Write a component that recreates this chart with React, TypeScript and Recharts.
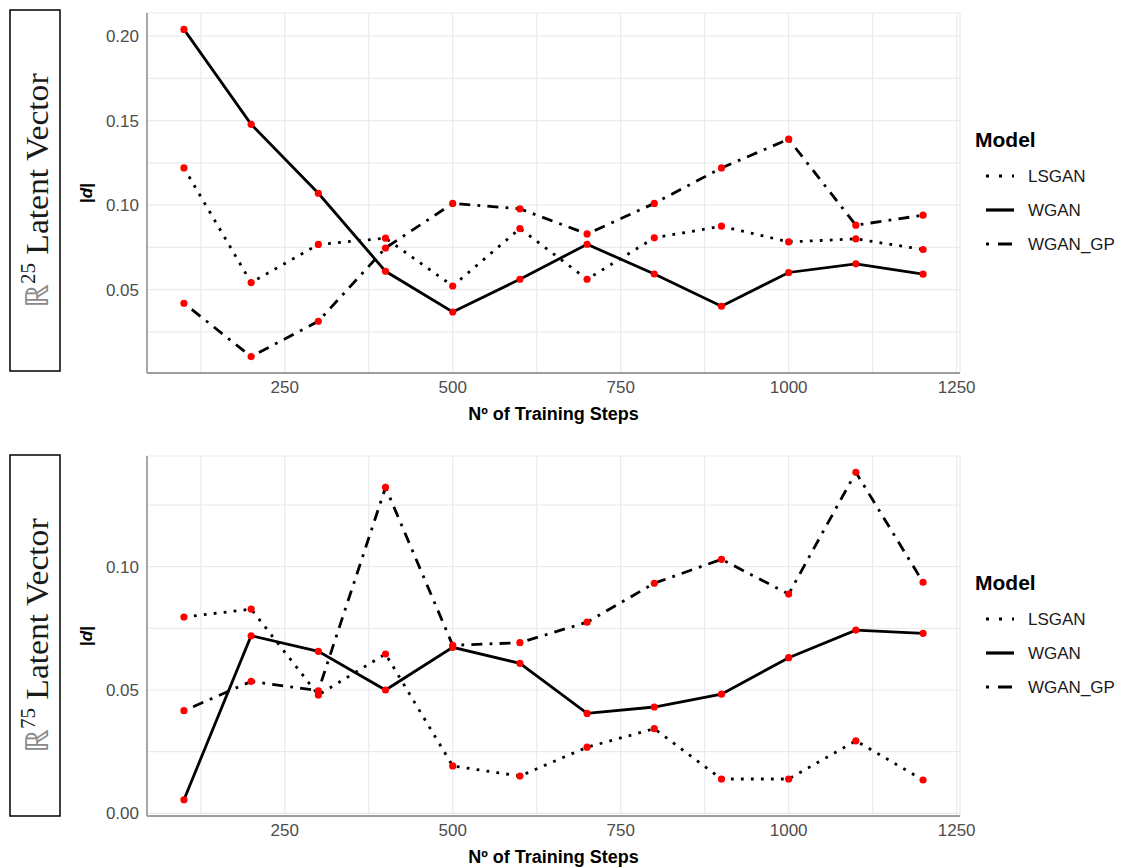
import React from 'react';
import { ComposedChart, Line, XAxis, YAxis, CartesianGrid, Legend } from 'recharts';

// ---------- data ----------
const steps = [100, 200, 300, 400, 500, 600, 700, 800, 900, 1000, 1100, 1200];

// R^25 latent vector panel
const top_LSGAN = [0.122, 0.0541, 0.0767, 0.0804, 0.0521, 0.0861, 0.0561, 0.0806, 0.0875, 0.0782, 0.080, 0.0737];
const top_WGAN = [0.204, 0.1478, 0.107, 0.0608, 0.0367, 0.0561, 0.0768, 0.0592, 0.0401, 0.0601, 0.0652, 0.0591];
const top_WGAN_GP = [0.0419, 0.0103, 0.0312, 0.0746, 0.101, 0.0978, 0.0829, 0.101, 0.122, 0.139, 0.0881, 0.094];

// R^75 latent vector panel
const bot_LSGAN = [0.0796, 0.0828, 0.048, 0.0646, 0.0192, 0.0151, 0.0268, 0.0343, 0.0139, 0.0139, 0.0294, 0.0135];
const bot_WGAN = [0.0055, 0.072, 0.0657, 0.050, 0.0673, 0.0608, 0.0405, 0.0431, 0.0483, 0.0631, 0.0743, 0.073];
const bot_WGAN_GP = [0.0416, 0.0535, 0.0497, 0.1322, 0.0681, 0.0692, 0.0775, 0.0933, 0.103, 0.0889, 0.1383, 0.0937];

const seriesNames = ['LSGAN', 'WGAN', 'WGAN_GP'];
const xTicks = [125, 250, 375, 500, 625, 750, 875, 1000, 1125, 1250];
const xMajor = [250, 500, 750, 1000, 1250];
const topYTicks = [0.025, 0.05, 0.075, 0.1, 0.125, 0.15, 0.175, 0.2];
const botYTicks = [0, 0.025, 0.05, 0.075, 0.1, 0.125];
const yMajor = ['0.00', '0.05', '0.10', '0.15', '0.20'];

const buildRows = (a: number[], b: number[], c: number[]) =>
  steps.map((s, i) => ({ step: s, LSGAN: a[i], WGAN: b[i], WGAN_GP: c[i] }));

const topRows = buildRows(top_LSGAN, top_WGAN, top_WGAN_GP);
const botRows = buildRows(bot_LSGAN, bot_WGAN, bot_WGAN_GP);

// ---------- styles ----------
const SANS = '"Liberation Sans", Arial, Helvetica, sans-serif';
const SERIF = '"Liberation Serif", "Times New Roman", serif';
const LW = 2.8;
const dashes: Record<string, string | undefined> = {
  LSGAN: '2.8 7.2',
  WGAN: undefined,
  WGAN_GP: '2.8 7.2 11 7.2',
};
const keyDashes: Record<string, string | undefined> = {
  LSGAN: '3 10',
  WGAN: undefined,
  WGAN_GP: '3 9 14 9',
};

const xFmt = (v: number) => (xMajor.includes(v) ? String(v) : '');
const yFmt = (v: number) => {
  const s = v.toFixed(2);
  return yMajor.includes(s) && Math.abs(Math.round(v * 1000) % 50) === 0 ? s : '';
};

const LegendBox = ({ modelY, rowY }: { modelY: number; rowY: number[] }) => (
  <svg width={164} height={300} style={{ display: 'block' }}>
    <text x={15} y={modelY} dominantBaseline="central" fontFamily={SANS} fontWeight="bold" fontSize={21} fill="#000">
      Model
    </text>
    {seriesNames.map((n, i) => (
      <g key={n}>
        <line x1={26} y1={rowY[i]} x2={54} y2={rowY[i]} stroke="#000" strokeWidth={LW + 0.4} strokeDasharray={keyDashes[n]} />
        <text x={68} y={rowY[i]} dominantBaseline="central" fontFamily={SANS} fontSize={17} fill="#1a1a1a">
          {n}
        </text>
      </g>
    ))}
  </svg>
);

type PanelProps = {
  rows: any[];
  top: number;
  height: number;
  xAxisHeight: number;
  yDomain: [number, number];
  yTicks: number[];
  modelY: number;
  rowY: number[];
};

const Panel = ({ rows, top, height, xAxisHeight, yDomain, yTicks, modelY, rowY }: PanelProps) => (
  <div style={{ position: 'absolute', left: 0, top, width: 1124, height }}>
    <ComposedChart
      width={1124}
      height={height}
      data={rows}
      margin={{ top: 13, right: 164, left: 87, bottom: 0 }}
    >
      <CartesianGrid stroke="#EBEBEB" strokeWidth={1.2} />
      <XAxis
        dataKey="step"
        type="number"
        domain={[45, 1255]}
        ticks={xTicks}
        tickFormatter={xFmt}
        interval={0}
        height={xAxisHeight}
        tickLine={false}
        axisLine={{ stroke: '#9E9E9E', strokeWidth: 1.8 }}
        tick={{ fill: '#4D4D4D', fontSize: 17, fontFamily: SANS }}
        allowDataOverflow
        label={(props: any) => {
          const vb = props.viewBox || {};
          return (
            <text
              x={vb.x + vb.width / 2}
              y={vb.y + 47}
              textAnchor="middle"
              fontFamily={SANS}
              fontWeight="bold"
              fontSize={18}
              fill="#000"
            >
              Nº of Training Steps
            </text>
          );
        }}
      />
      <YAxis
        type="number"
        domain={yDomain}
        ticks={yTicks}
        tickFormatter={yFmt}
        interval={0}
        width={60}
        tickLine={false}
        allowDataOverflow
        axisLine={{ stroke: '#9E9E9E', strokeWidth: 1.8 }}
        tick={{ fill: '#4D4D4D', fontSize: 17, fontFamily: SANS }}
        label={(props: any) => {
          const vb = props.viewBox || {};
          const cx = 86;
          const cy = vb.y + vb.height / 2;
          return (
            <text
              x={cx}
              y={cy}
              transform={`rotate(-90, ${cx}, ${cy})`}
              textAnchor="middle"
              dominantBaseline="central"
              fontFamily={SANS}
              fontWeight="bold"
              fontSize={17}
              fill="#000"
            >
              |<tspan fontStyle="italic">d</tspan>|
            </text>
          );
        }}
      />
      <Legend
        layout="vertical"
        align="center"
        verticalAlign="middle"
        wrapperStyle={{ left: 960, top: 0, width: 164 }}
        content={() => <LegendBox modelY={modelY} rowY={rowY} />}
      />
      {seriesNames.map((n) => (
        <Line
          key={n}
          dataKey={n}
          type="linear"
          stroke="#000"
          strokeWidth={LW}
          strokeDasharray={dashes[n]}
          dot={false}
          activeDot={false}
          isAnimationActive={false}
          legendType="none"
        />
      ))}
      {seriesNames.map((n) => (
        <Line
          key={n + '_pts'}
          dataKey={n}
          type="linear"
          stroke="none"
          strokeWidth={0}
          dot={{ r: 3.6, fill: '#FF0000', stroke: 'none' }}
          activeDot={false}
          isAnimationActive={false}
          legendType="none"
        />
      ))}
    </ComposedChart>
  </div>
);

const SideLabel = ({ y, h, sup }: { y: number; h: number; sup: string }) => {
  const cx = 36;
  const cy = y + h / 2;
  return (
    <g>
      <rect x={10} y={y} width={50} height={h} fill="none" stroke="#000" strokeWidth={1.5} />
      <g transform={`translate(${cx}, ${cy}) rotate(-90) scale(1.05, 1)`}>
        <text x={0} y={12} textAnchor="middle" fontFamily={SERIF} fontSize={32} fill="#1a1a1a">
          <tspan fill="#8a8a8a">ℝ</tspan>
          <tspan fontSize={20} dy={-13}>{sup}</tspan>
          <tspan dy={13}> Latent Vector</tspan>
        </text>
      </g>
    </g>
  );
};

export default function App() {
  return (
    <div style={{ position: 'absolute', left: 0, top: 0, width: 1124, height: 868, background: '#fff' }}>
      <Panel
        rows={topRows}
        top={0}
        height={430}
        xAxisHeight={57}
        yDomain={[0.0006, 0.2137]}
        yTicks={topYTicks}
        modelY={139}
        rowY={[176, 210, 244]}
      />
      <Panel
        rows={botRows}
        top={443}
        height={425}
        xAxisHeight={52}
        yDomain={[-0.0011, 0.1449]}
        yTicks={botYTicks}
        modelY={139}
        rowY={[176, 210, 244]}
      />
      <svg width={70} height={868} style={{ position: 'absolute', left: 0, top: 0 }}>
        <SideLabel y={10} h={361} sup="25" />
        <SideLabel y={455} h={361} sup="75" />
      </svg>
    </div>
  );
}
